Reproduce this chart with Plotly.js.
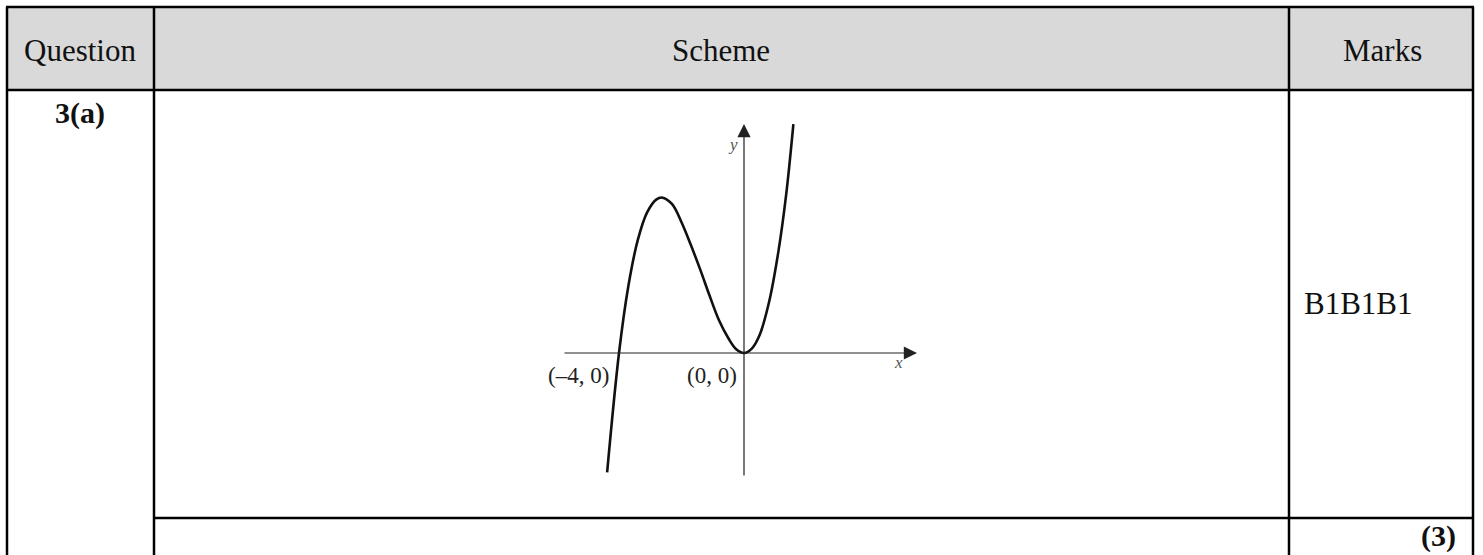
<!DOCTYPE html>
<html>
<head>
<meta charset="utf-8">
<script src="https://cdn.plot.ly/plotly-3.0.1.min.js"></script>
<style>html,body{margin:0;padding:0;background:#fff;}#chart{width:1483px;height:555px;}</style>
</head>
<body>
<div id="chart"></div>
<script>
// ---- data ----
const curveX = [-4.38, -4.0, -3.7, -3.4, -3.1, -2.8, -2.6, -2.3, -2.0, -1.7, -1.4, -1.1, -0.8, -0.5, -0.25, 0, 0.25, 0.5, 0.8, 1.1, 1.35, 1.58];
const curveY = [-7.3, 0, 4.1, 6.9, 8.6, 9.4, 9.5, 9.1, 8.0, 6.6, 5.1, 3.5, 2.0, 0.9, 0.23, 0, 0.27, 1.1, 3.1, 6.2, 9.7, 14.0];
const pointLabels = ["(\u20134, 0)", "(0, 0)"];
const headers = ["Question", "Scheme", "Marks"];
const questionLabel = "3(a)";
const marksText = "B1B1B1";
const totalMarks = "(3)";

const W = 1483, H = 555;
const px = v => v / W;
const py = v => 1 - v / H;
const serif = "Liberation Serif, Times New Roman, serif";

// table geometry (pixels)
const L = 7, R = 1473, T = 7, HB = 90, C1 = 154, C2 = 1289, RB = 518;

const shapes = [
  {type:'rect', xref:'paper', yref:'paper', x0:px(L), x1:px(R), y0:py(T), y1:py(HB), fillcolor:'#d9d9d9', line:{width:0}, layer:'below'},
];
function hline(y, x0, x1){ shapes.push({type:'line', xref:'paper', yref:'paper', x0:px(x0), x1:px(x1), y0:py(y), y1:py(y), line:{color:'#000', width:2.5}}); }
function vline(x, y0, y1){ shapes.push({type:'line', xref:'paper', yref:'paper', x0:px(x), x1:px(x), y0:py(y0), y1:py(y1), line:{color:'#000', width:2.5}}); }
hline(T, L-1, R+1);
hline(HB, L, R);
hline(RB, C1, R);
vline(L, T, H);
vline(C1, T, H);
vline(C2, T, H);
vline(R, T, H);

// graph axis mapping
const x0px = 744, y0px = 353, sx = 31.25, sy = 16.35;
const dx = p => (p - x0px) / sx;
const dy = p => (y0px - p) / sy;

const annotations = [
  {xref:'paper', yref:'paper', x:px(80), y:py(51), text:headers[0], showarrow:false, font:{family:serif, size:31, color:'#111'}, xanchor:'center', yanchor:'middle'},
  {xref:'paper', yref:'paper', x:px(721), y:py(51), text:headers[1], showarrow:false, font:{family:serif, size:31, color:'#111'}, xanchor:'center', yanchor:'middle'},
  {xref:'paper', yref:'paper', x:px(1382), y:py(51), text:headers[2], showarrow:false, font:{family:serif, size:31, color:'#111'}, xanchor:'center', yanchor:'middle'},
  {xref:'paper', yref:'paper', x:px(80), y:py(113), text:'<b>'+questionLabel+'</b>', showarrow:false, font:{family:serif, size:30, color:'#111'}, xanchor:'center', yanchor:'middle'},
  {xref:'paper', yref:'paper', x:px(1302), y:py(303), text:marksText, showarrow:false, font:{family:serif, size:31, color:'#111'}, xanchor:'left', yanchor:'middle'},
  {xref:'paper', yref:'paper', x:px(1458), y:py(536), text:'<b>'+totalMarks+'</b>', showarrow:false, font:{family:serif, size:30, color:'#111'}, xanchor:'right', yanchor:'middle'},
  // axes with arrows
  {xref:'x', yref:'y', axref:'x', ayref:'y', x:dx(917), y:0, ax:dx(563), ay:0, text:'', showarrow:true, arrowhead:2, arrowsize:2.2, arrowwidth:1.2, arrowcolor:'#222'},
  {xref:'x', yref:'y', axref:'x', ayref:'y', x:0, y:dy(124), ax:0, ay:dy(477), text:'', showarrow:true, arrowhead:2, arrowsize:2.2, arrowwidth:1.2, arrowcolor:'#222'},
  {xref:'x', yref:'y', x:dx(733), y:dy(144), text:'<i>y</i>', showarrow:false, font:{family:serif, size:17, color:'#555'}, xanchor:'center', yanchor:'middle'},
  {xref:'x', yref:'y', x:dx(898), y:dy(362), text:'<i>x</i>', showarrow:false, font:{family:serif, size:17, color:'#555'}, xanchor:'center', yanchor:'middle'},
  {xref:'x', yref:'y', x:dx(611), y:dy(375), text:pointLabels[0], showarrow:false, font:{family:serif, size:23, color:'#222'}, xanchor:'right', yanchor:'middle'},
  {xref:'x', yref:'y', x:dx(739), y:dy(375), text:pointLabels[1], showarrow:false, font:{family:serif, size:23, color:'#222'}, xanchor:'right', yanchor:'middle'},
];

const trace = {
  x: curveX, y: curveY, type:'scatter', mode:'lines',
  line:{color:'#111', width:2.6, shape:'spline', smoothing:1},
  hoverinfo:'skip'
};

const layout = {
  width: W, height: H,
  margin:{l:0, r:0, t:0, b:0, pad:0},
  paper_bgcolor:'#fff', plot_bgcolor:'rgba(0,0,0,0)',
  showlegend:false,
  xaxis:{domain:[px(540), px(940)], range:[dx(540), dx(940)], visible:false, fixedrange:true},
  yaxis:{domain:[py(490), py(110)], range:[dy(490), dy(110)], visible:false, fixedrange:true},
  shapes, annotations
};

Plotly.newPlot('chart', [trace], layout, {staticPlot:true, displayModeBar:false});
</script>
</body>
</html>
